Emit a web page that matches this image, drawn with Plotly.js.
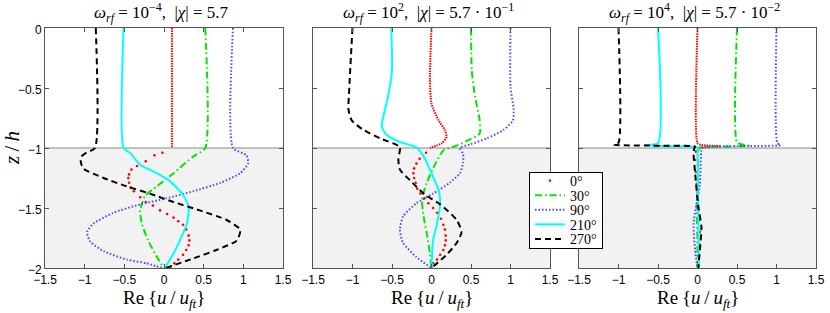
<!DOCTYPE html>
<html>
<head>
<meta charset="utf-8">
<script src="https://cdn.plot.ly/plotly-3.0.1.min.js"></script>
<style>html,body{margin:0;padding:0;background:#fff;}#chart{width:830px;height:313px;}</style>
</head>
<body>
<div id="chart"></div>
<script>
// ---------- DATA ----------
const phaseLabels = ["0°", "30°", "90°", "210°", "270°"];
const panelTitles = [
  "<i>ω<sub>rf</sub></i> = 10<sup>−4</sup>,  |<i>χ</i>| = 5.7",
  "<i>ω<sub>rf</sub></i> = 10<sup>2</sup>,  |<i>χ</i>| = 5.7 · 10<sup>−1</sup>",
  "<i>ω<sub>rf</sub></i> = 10<sup>4</sup>,  |<i>χ</i>| = 5.7 · 10<sup>−2</sup>"
];
const xTitle = "Re\u2009{<i>u</i>\u2009/\u2009<i>u</i><sub><i>ft</i></sub>}";
const yTitle = "<i>z</i>\u2009/\u2009<i>h</i>";
const xTicks = [-1.5, -1, -0.5, 0, 0.5, 1, 1.5];
const zTicks = [-2, -1.5, -1, -0.5, 0];

// Panel 1: omega_rf = 1e-4
const p1_red_up_z = [0, -1];
const p1_red_up_x = [0.10, 0.10];
const p1_red_z = [-1.04, -1.06, -1.11, -1.15, -1.18, -1.22, -1.25, -1.29, -1.33, -1.36, -1.41, -1.45, -1.48, -1.52, -1.55, -1.58, -1.61, -1.64, -1.68, -1.73, -1.77, -1.81, -1.85, -1.89, -1.93, -1.96, -1.99];
const p1_red_x = [-0.02, -0.12, -0.23, -0.34, -0.41, -0.44, -0.45, -0.44, -0.42, -0.38, -0.30, -0.23, -0.14, -0.05, 0.04, 0.12, 0.18, 0.24, 0.28, 0.31, 0.32, 0.31, 0.28, 0.24, 0.18, 0.13, 0.08];
const p1_green_z = [0, -1, -1.07, -1.21, -1.32, -1.40, -1.52, -1.63, -1.77, -1.93, -2];
const p1_green_x = [0.52, 0.52, 0.37, 0.12, -0.09, -0.24, -0.30, -0.28, -0.20, -0.07, 0.0];
const p1_blue_z = [0, -1, -1.06, -1.13, -1.21, -1.29, -1.36, -1.42, -1.47, -1.54, -1.63, -1.70, -1.78, -1.86, -1.93, -1.96, -1.985, -2];
const p1_blue_x = [0.87, 0.87, 1.04, 1.06, 0.96, 0.71, 0.37, 0.03, -0.30, -0.64, -0.89, -0.97, -0.93, -0.76, -0.47, -0.22, -0.10, 0.0];
const p1_cyan_z = [0, -1, -1.04, -1.14, -1.21, -1.28, -1.39, -1.49, -1.63, -1.77, -1.88, -2];
const p1_cyan_x = [-0.51, -0.51, -0.43, -0.30, -0.09, 0.08, 0.24, 0.31, 0.29, 0.20, 0.12, 0.01];
const p1_black_z = [0, -1, -1.04, -1.07, -1.11, -1.17, -1.25, -1.32, -1.38, -1.45, -1.52, -1.60, -1.68, -1.77, -1.85, -1.92, -2];
const p1_black_x = [-0.86, -0.87, -0.98, -1.04, -1.05, -1.02, -0.76, -0.47, -0.18, 0.12, 0.45, 0.79, 0.96, 0.92, 0.66, 0.37, 0.02];

// Panel 2: omega_rf = 1e2
const p2_red_up_z = [0, -0.43, -0.63, -0.77, -0.85, -0.91, -0.96, -1.0];
const p2_red_up_x = [0.0, -0.02, 0.0, 0.09, 0.17, 0.19, 0.13, -0.02];
const p2_red_z = [-1.04, -1.09, -1.13, -1.17, -1.21, -1.25, -1.29, -1.34, -1.38, -1.42, -1.46, -1.50, -1.54, -1.59, -1.64, -1.68, -1.73, -1.77, -1.81, -1.85, -1.89, -1.93, -1.96, -1.99];
const p2_red_x = [-0.07, -0.15, -0.19, -0.22, -0.23, -0.22, -0.20, -0.18, -0.14, -0.09, -0.04, 0.02, 0.07, 0.12, 0.15, 0.17, 0.18, 0.18, 0.17, 0.15, 0.11, 0.07, 0.02, 0.0];
const p2_green_z = [0, -0.35, -0.57, -0.77, -0.88, -0.94, -0.98, -1.02, -1.13, -1.29, -1.43, -1.57, -1.71, -1.88, -2];
const p2_green_x = [0.50, 0.51, 0.55, 0.61, 0.61, 0.45, 0.32, 0.15, 0.05, -0.06, -0.12, -0.10, -0.06, -0.02, 0.0];
const p2_blue_z = [0, -0.49, -0.68, -0.77, -0.85, -0.92, -0.97, -1.0, -1.05, -1.12, -1.21, -1.29, -1.38, -1.46, -1.57, -1.68, -1.79, -1.91, -2];
const p2_blue_x = [1.0, 1.0, 1.04, 1.03, 0.91, 0.70, 0.49, 0.36, 0.40, 0.40, 0.36, 0.23, 0.02, -0.19, -0.36, -0.40, -0.36, -0.19, 0.0];
const p2_cyan_z = [0, -0.35, -0.57, -0.74, -0.82, -0.89, -0.95, -0.995, -1.07, -1.21, -1.35, -1.46, -1.63, -1.77, -2];
const p2_cyan_x = [-0.51, -0.50, -0.55, -0.61, -0.63, -0.57, -0.40, -0.19, -0.10, 0.0, 0.09, 0.11, 0.07, 0.02, 0.0];
const p2_black_z = [0, -0.49, -0.68, -0.77, -0.85, -0.92, -0.99, -1.02, -1.09, -1.18, -1.27, -1.38, -1.47, -1.60, -1.70, -1.79, -1.89, -2];
const p2_black_x = [-1.0, -1.04, -1.05, -1.01, -0.86, -0.65, -0.40, -0.40, -0.42, -0.40, -0.27, -0.10, 0.11, 0.32, 0.38, 0.32, 0.19, 0.0];

// Panel 3: omega_rf = 1e4
const p3_red_up_z = [0, -0.96, -0.975, -0.985, -0.993, -1.0];
const p3_red_up_x = [0.0, 0.0, 0.05, 0.30, 0.15, 0.0];
const p3_red_z = [-1.03, -1.1, -1.2, -1.3, -1.4, -1.5, -1.6, -1.7, -1.8, -1.9, -1.98];
const p3_red_x = [-0.02, -0.03, -0.02, -0.01, 0.0, 0.01, 0.02, 0.03, 0.02, 0.01, 0.0];
const p3_green_z = [0, -0.955, -0.97, -0.98, -0.99, -1.0, -1.2, -1.5, -1.8, -2];
const p3_green_x = [0.50, 0.50, 0.57, 0.65, 0.30, 0.02, 0.01, -0.01, 0.0, 0.0];
const p3_blue_z = [0, -0.955, -0.975, -0.985, -0.995, -1.02, -1.3, -1.63, -1.85, -2];
const p3_blue_x = [1.0, 1.01, 1.05, 0.50, 0.07, 0.05, 0.03, -0.05, -0.03, 0.0];
const p3_cyan_z = [0, -0.96, -0.975, -0.985, -0.995, -1.05, -1.5, -2];
const p3_cyan_x = [-0.50, -0.50, -0.66, -0.40, 0.0, 0.0, 0.01, 0.02];
const p3_black_z = [0, -0.955, -0.972, -0.980, -0.988, -1.0, -1.04, -1.21, -1.49, -1.66, -1.85, -2];
const p3_black_x = [-1.0, -1.0, -1.06, -0.60, -0.03, -0.04, -0.05, -0.03, 0.01, 0.05, 0.03, 0.01];

// ---------- STYLE ----------
const styles = {
  red:   {color: "#ff0000"},
  green: {color: "#00e600", width: 2, dash: "7px,3px,1.5px,3px"},
  blue:  {color: "#4848ff", width: 2, dash: "1.5px,2px"},
  cyan:  {color: "#00ffff", width: 2, dash: "solid"},
  black: {color: "#000000", width: 2, dash: "6px,4px"}
};

const panels = [
  {ax: "", d: {ru: [p1_red_up_x, p1_red_up_z], r: [p1_red_x, p1_red_z], g: [p1_green_x, p1_green_z], b: [p1_blue_x, p1_blue_z], c: [p1_cyan_x, p1_cyan_z], k: [p1_black_x, p1_black_z]}},
  {ax: "2", d: {ru: [p2_red_up_x, p2_red_up_z], r: [p2_red_x, p2_red_z], g: [p2_green_x, p2_green_z], b: [p2_blue_x, p2_blue_z], c: [p2_cyan_x, p2_cyan_z], k: [p2_black_x, p2_black_z]}},
  {ax: "3", d: {ru: [p3_red_up_x, p3_red_up_z], r: [p3_red_x, p3_red_z], g: [p3_green_x, p3_green_z], b: [p3_blue_x, p3_blue_z], c: [p3_cyan_x, p3_cyan_z], k: [p3_black_x, p3_black_z]}}
];

const traces = [];
panels.forEach((p, i) => {
  const xa = "x" + p.ax, ya = "y" + p.ax;
  const leg = i === 0;
  traces.push({x: p.d.ru[0], y: p.d.ru[1], xaxis: xa, yaxis: ya, mode: "lines", showlegend: false,
    line: {color: styles.red.color, width: 2, dash: "1.5px,1px", shape: "spline", smoothing: 0.6}, hoverinfo: "skip"});
  traces.push({x: p.d.r[0], y: p.d.r[1], xaxis: xa, yaxis: ya, mode: "markers", name: phaseLabels[0],
    showlegend: leg, marker: {color: styles.red.color, size: 2.6}});
  [["g", "green", 1], ["b", "blue", 2], ["c", "cyan", 3], ["k", "black", 4]].forEach(([key, st, li]) => {
    traces.push({x: p.d[key][0], y: p.d[key][1], xaxis: xa, yaxis: ya, mode: "lines", name: phaseLabels[li],
      showlegend: leg, line: Object.assign({shape: "spline", smoothing: 0.6}, styles[st])});
  });
});

const W = 830, H = 313;
const xDom = [[45 / W, 283 / W], [313 / W, 550 / W], [579 / W, 816 / W]];
const yDom = [(H - 268) / H, (H - 28) / H];
const axColor = "#555555";
const sans = "'Liberation Sans', Arimo, Arial, Helvetica, sans-serif";
const serif = "'Liberation Serif', 'DejaVu Serif', 'Times New Roman', Times, serif";
const tickFont = {family: sans, size: 12, color: "#000"};

function xAxis(dom, anchor) {
  return {domain: dom, anchor: anchor, range: [-1.5, 1.5], tickvals: xTicks, ticktext: xTicks.map(v => v === 0 ? "0" : (v < 0 ? "−" : "") + Math.abs(v)),
    ticks: "inside", ticklen: 4, tickcolor: axColor, showline: true, linecolor: axColor, linewidth: 1, mirror: "ticks",
    showgrid: false, zeroline: false, tickfont: tickFont, ticklabelstandoff: 1, automargin: false, fixedrange: true};
}
function yAxis(anchor, labels) {
  return {domain: yDom, anchor: anchor, range: [-2, 0], tickvals: zTicks,
    ticktext: zTicks.map(v => v === 0 ? "0" : "−" + Math.abs(v)), showticklabels: labels,
    ticks: "inside", ticklen: 4, tickcolor: axColor, showline: true, linecolor: axColor, linewidth: 1, mirror: "ticks",
    showgrid: false, zeroline: false, tickfont: tickFont, ticklabelshift: 2, automargin: false, fixedrange: true};
}

const shapes = [];
const annotations = [];
panels.forEach((p, i) => {
  const xr = "x" + p.ax, yr = "y" + p.ax;
  shapes.push({type: "rect", xref: xr, yref: yr, x0: -1.5, x1: 1.5, y0: -2, y1: -1, fillcolor: "#f2f2f2", line: {width: 0}, layer: "below"});
  shapes.push({type: "line", xref: xr, yref: yr, x0: -1.5, x1: 1.5, y0: -1, y1: -1, line: {color: "#888888", width: 1}, layer: "below"});
  const cx = (xDom[i][0] + xDom[i][1]) / 2;
  annotations.push({xref: "paper", yref: "paper", x: cx - 3 / W, y: 1 - 13 / H, xanchor: "center", yanchor: "middle",
    text: panelTitles[i], showarrow: false, font: {family: serif, size: 17, color: "#000"}});
  annotations.push({xref: "paper", yref: "paper", x: cx, y: 1 - 299 / H, xanchor: "center", yanchor: "middle",
    text: xTitle, showarrow: false, font: {family: serif, size: 19, color: "#000"}});
});
annotations.push({xref: "paper", yref: "paper", x: 12 / W, y: 1 - 148 / H, xanchor: "center", yanchor: "middle",
  text: yTitle, textangle: -90, showarrow: false, font: {family: serif, size: 21, color: "#000"}});

const layout = {
  width: W, height: H, margin: {l: 0, r: 0, t: 0, b: 0},
  paper_bgcolor: "#ffffff", plot_bgcolor: "#ffffff",
  showlegend: true,
  legend: {x: 529 / W, y: 1 - 172 / H, xanchor: "left", yanchor: "top", bgcolor: "#ffffff", bordercolor: "#000000",
    borderwidth: 1, font: {family: serif, size: 14, color: "#000"}, tracegroupgap: 0, itemwidth: 30, traceorder: "normal"},
  xaxis: xAxis(xDom[0], "y"), xaxis2: xAxis(xDom[1], "y2"), xaxis3: xAxis(xDom[2], "y3"),
  yaxis: yAxis("x", true), yaxis2: yAxis("x2", false), yaxis3: yAxis("x3", false),
  shapes: shapes, annotations: annotations
};

// Tighten the legend rows (MATLAB legends are compact)
function compactLegend(gd) {
  try {
    const leg = gd.querySelector("g.legend");
    if (!leg) return;
    const items = Array.from(leg.querySelectorAll("g.traces"));
    const n = items.length;
    if (n < 2) return;
    const re = /translate\(\s*([-\d.e]+)[\s,]+([-\d.e]+)\s*\)/;
    const pos = items.map(it => {
      const m = (it.getAttribute("transform") || "").match(re);
      return m ? [parseFloat(m[1]), parseFloat(m[2])] : null;
    });
    if (pos.some(p => !p)) return;
    const step = 14.6, first = 8.6;
    items.forEach((it, i) => it.setAttribute("transform", "translate(" + pos[i][0] + "," + (first + i * step) + ")"));
    const bg = leg.querySelector("rect.bg");
    if (bg) bg.setAttribute("height", (first * 2 + (n - 1) * step).toFixed(1));
  } catch (e) { /* keep native legend */ }
}

Plotly.newPlot("chart", traces, layout, {staticPlot: true, displayModeBar: false}).then(compactLegend);
</script>
</body>
</html>
